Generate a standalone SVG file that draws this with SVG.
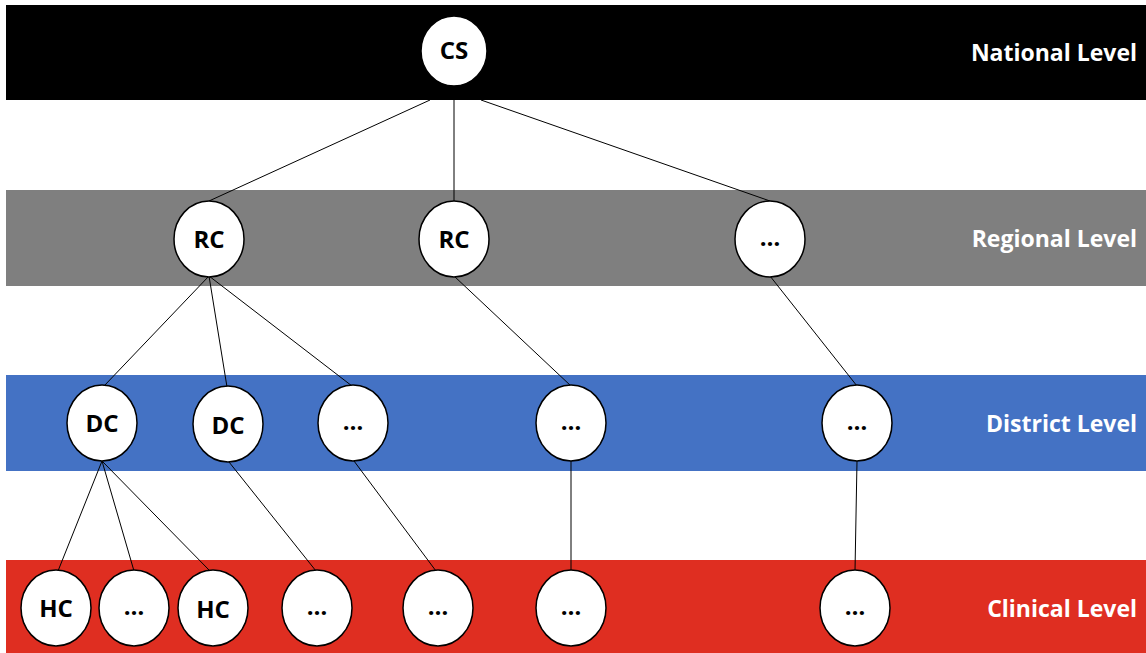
<svg xmlns="http://www.w3.org/2000/svg" width="1146" height="653" viewBox="0 0 1146 653">
<style>
.band-label{font-family:"Open Sans","Noto Sans",sans-serif;font-weight:bold;font-size:23px;fill:#fff;text-anchor:end}
.node ellipse{fill:#fff;stroke:#000;stroke-width:1.5}
.node text{font-family:"Open Sans","Noto Sans",sans-serif;font-weight:bold;font-size:24px;fill:#000;text-anchor:middle}
.conn line{stroke:#000;stroke-width:1}
</style>
<rect x="0" y="0" width="1146" height="653" fill="#fff"/>
<g id="bands">
<rect x="6" y="5" width="1140" height="95" fill="#000"/>
<rect x="6" y="190" width="1140" height="96" fill="#7f7f7f"/>
<rect x="6" y="375" width="1140" height="96" fill="#4472c4"/>
<rect x="6" y="560" width="1140" height="93" fill="#df2e21"/>
<text class="band-label" x="1137" y="61">National Level</text>
<text class="band-label" x="1137" y="247">Regional Level</text>
<text class="band-label" x="1137" y="432">District Level</text>
<text class="band-label" x="1137" y="617">Clinical Level</text>
</g>
<g id="connectors" class="conn">
<line x1="430" y1="100" x2="209" y2="201"/>
<line x1="454" y1="100" x2="454" y2="201"/>
<line x1="481" y1="100" x2="770" y2="201"/>
<line x1="209" y1="276" x2="104" y2="386"/>
<line x1="209" y1="276" x2="227" y2="387"/>
<line x1="209" y1="276" x2="352" y2="386"/>
<line x1="454" y1="276" x2="571" y2="386"/>
<line x1="770" y1="276" x2="857" y2="386"/>
<line x1="102" y1="461" x2="58" y2="571"/>
<line x1="102" y1="461" x2="134" y2="571"/>
<line x1="102" y1="461" x2="210" y2="571"/>
<line x1="229" y1="462" x2="316" y2="571"/>
<line x1="354" y1="461" x2="436" y2="571"/>
<line x1="571" y1="461" x2="571" y2="571"/>
<line x1="857" y1="461" x2="855" y2="571"/>
</g>
<g id="cs" class="node"><ellipse cx="454" cy="51" rx="33" ry="35"/><text x="454" y="59">CS</text></g>
<g id="rc1" class="node"><ellipse cx="209" cy="239" rx="35" ry="38"/><text x="209" y="248">RC</text></g>
<g id="rc2" class="node"><ellipse cx="454" cy="239" rx="35" ry="38"/><text x="454" y="248">RC</text></g>
<g id="r3" class="node"><ellipse cx="770" cy="239" rx="35" ry="38"/><text x="770" y="246">…</text></g>
<g id="dc1" class="node"><ellipse cx="102" cy="423" rx="35" ry="38"/><text x="102" y="432">DC</text></g>
<g id="dc2" class="node"><ellipse cx="228" cy="424" rx="35" ry="38"/><text x="228" y="434">DC</text></g>
<g id="d3" class="node"><ellipse cx="353" cy="423" rx="35" ry="38"/><text x="353" y="430">…</text></g>
<g id="d4" class="node"><ellipse cx="571" cy="423" rx="35" ry="38"/><text x="571" y="430">…</text></g>
<g id="d5" class="node"><ellipse cx="857" cy="423" rx="35" ry="38"/><text x="857" y="430">…</text></g>
<g id="hc1" class="node"><ellipse cx="56" cy="608" rx="35" ry="38"/><text x="56" y="617">HC</text></g>
<g id="h2" class="node"><ellipse cx="134" cy="608" rx="35" ry="38"/><text x="134" y="615">…</text></g>
<g id="hc2" class="node"><ellipse cx="213" cy="608" rx="35" ry="38"/><text x="213" y="618">HC</text></g>
<g id="h4" class="node"><ellipse cx="317" cy="608" rx="35" ry="38"/><text x="317" y="615">…</text></g>
<g id="h5" class="node"><ellipse cx="438" cy="608" rx="35" ry="38"/><text x="438" y="615">…</text></g>
<g id="h6" class="node"><ellipse cx="571" cy="608" rx="35" ry="38"/><text x="571" y="615">…</text></g>
<g id="h7" class="node"><ellipse cx="855" cy="608" rx="35" ry="38"/><text x="855" y="615">…</text></g>
</svg>
